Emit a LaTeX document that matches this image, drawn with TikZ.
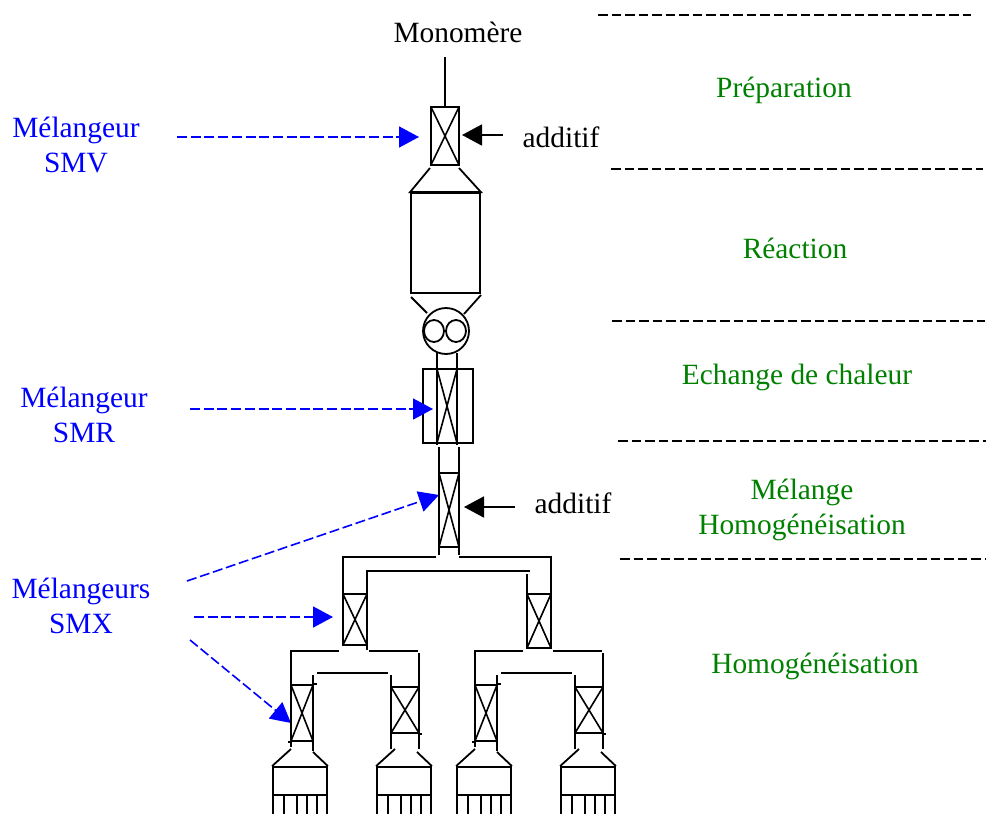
\documentclass[tikz,border=0pt]{standalone}
\usepackage{fontspec}
\setmainfont{Liberation Serif}
\usetikzlibrary{arrows.meta,positioning,shapes.geometric}
\definecolor{bleuSM}{RGB}{0,0,255}
\definecolor{vertEtape}{RGB}{0,128,0}
\tikzset{
	every node/.style={font=\fontsize{29.4}{34.5}\selectfont, align=center, inner sep=0pt},
	pipe/.style={line width=1.8pt},
	melangeur/.style 2 args={draw, line width=1.8pt, minimum width=#1, minimum height=#2,
		path picture={\draw[line width=1.6pt] (path picture bounding box.north west) -- (path picture bounding box.south east)
			(path picture bounding box.north east) -- (path picture bounding box.south west);}},
	bac/.style 2 args={draw, line width=1.8pt, minimum width=#1, minimum height=#2},
	etape/.style={text=vertEtape},
	typeSM/.style={text=bleuSM},
	limite/.style={line width=1.6pt, dash pattern=on 9.5pt off 4pt},
	renvoi/.style={draw=bleuSM, line width=1.6pt, dash pattern=on 10pt off 3.7pt, -{Triangle[length=20pt,width=21pt,fill=bleuSM]}},
	ajout/.style={line width=1.8pt, -{Triangle[length=20pt,width=21pt]}},
}
\begin{document}
\begin{tikzpicture}[x=1pt,y=-1pt]
	\useasboundingbox (0,0) rectangle (986,814);

	% Define nodes
	\node (monomere) at (458,32) {Monomère};
	\node[melangeur={28pt}{58pt}] (smv) at (445,136) {};
	\node[bac={69pt}{100pt}] (reacteur) at (445.5,243) {};
	\node[draw, circle, line width=1.8pt, minimum size=46pt] (echangeur) at (446,331) {};
	\node[draw, ellipse, line width=1.8pt, minimum width=20pt, minimum height=22pt] (rotorA) at (434,331) {};
	\node[draw, ellipse, line width=1.8pt, minimum width=20pt, minimum height=22pt] (rotorB) at (456,331) {};
	\node[bac={50pt}{74pt}] (carter) at (448,406) {};
	\node[melangeur={20pt}{74pt}] (smr) at (447,406) {};
	\node[melangeur={20pt}{74pt}] (smxA) at (449,510) {};
	\node[melangeur={24pt}{51pt}] (smxB) at (355,619.5) {};
	\node[melangeur={24pt}{54pt}] (smxC) at (539,621) {};

	% Labels on the left
	\node[typeSM] (labelSMV) at (76,145) {Mélangeur\\SMV};
	\node[typeSM] (labelSMR) at (84,415) {Mélangeur\\SMR};
	\node[typeSM] (labelSMX) at (81,606) {Mélangeurs\\SMX};

	% Labels on the right
	\node[etape] (prep) at (784,90) {Préparation};
	\node[etape] (reaction) at (795,248) {Réaction};
	\node[etape] (echange) at (797,377) {Echange de chaleur};
	\node[etape] (melange) at (802,510) {Mélange\\Homogénéisation};
	\node[etape] (homog) at (815,666) {Homogénéisation};
	\node (additifA) at (561,137) {additif};
	\node (additifB) at (573,503) {additif};

	% Free ends of the connectors
	\coordinate (feedTop) at (445,57);
	\coordinate (tipSMV) at (419,137);
	\coordinate (tipSMR) at (433,409);
	\coordinate (tipSMXa) at (439,495);
	\coordinate (tipSMXb) at (333,617);
	\coordinate (tipSMXc) at (291,723);

	% Connect the nodes
	\draw[pipe] (feedTop) -- (smv.north);
	\draw[renvoi] (177,137) -- (tipSMV);
	\draw[renvoi] (190,409) -- (tipSMR);
	\draw[renvoi] (187,581) -- (tipSMXa);
	\draw[renvoi] (194,617) -- (tipSMXb);
	\draw[renvoi] (190,640) -- (tipSMXc);
	\draw[ajout] (503,135) -- (462,135);
	\draw[ajout] (515,507) -- (464,507);

	% Reactor and exchanger
	\draw[pipe] (430,168) -- (reacteur.north west) -- (reacteur.north east) -- (459,168);
	\draw[pipe] (411,297) -- (427,313);
	\draw[pipe] (481,295) -- (464,314);
	\draw[pipe] (437,353) -- (437,445);
	\draw[pipe] (457,353) -- (457,445);
	\draw[pipe] (439,447) -- (439,555);
	\draw[pipe] (459,447) -- (459,555);

	% First split
	\draw[pipe] (436,557) -- (343,557) -- (343,645);
	\draw[pipe] (459,557) -- (551,557) -- (551,648);
	\draw[pipe] (530,571) -- (367,571) -- (367,650);
	\draw[pipe] (527,574) -- (527,648);

	% Second split
	\foreach \sx in {0,184}{
		\draw[pipe] (339+\sx,651) -- (291+\sx,651) -- (291+\sx,747);
		\draw[pipe] (369+\sx,651) -- (418+\sx,651);
		\draw[pipe] (419+\sx,653) -- (419+\sx,749);
		\draw[pipe] (313+\sx,675) -- (313+\sx,751);
		\draw[pipe] (317+\sx,673) -- (388+\sx,673);
		\draw[pipe] (391+\sx,675) -- (391+\sx,749);
		\node[melangeur={22pt}{56pt}] (smxG\sx) at (302+\sx,713) {};
		\node[melangeur={28pt}{46pt}] (smxD\sx) at (405+\sx,710) {};
		\draw[pipe] (smxG\sx.north east) -- ++(3,0);
		\draw[pipe] (smxG\sx.south west) -- ++(-2,0);
		\draw[pipe] (smxD\sx.south east) -- ++(2,0);
	}

	% Collectors at the bottom
	\foreach \sx in {0,104,184,288}{
		\node[bac={54pt}{28pt}] (collecteur\sx) at (300+\sx,781) {};
		\draw[pipe] (291+\sx,749) -- (collecteur\sx.north west);
		\draw[pipe] (313+\sx,752) -- (collecteur\sx.north east);
		\foreach \fx in {273,284,297,307,317,327}
			\draw[pipe] (\fx+\sx,795) -- (\fx+\sx,814);
	}

	% Stage limits
	\draw[limite] (598,15) -- (971,15);
	\draw[limite] (611,169) -- (983,169);
	\draw[limite] (612,321) -- (985,321);
	\draw[limite] (618,441) -- (988,441);
	\draw[limite] (620,559) -- (988,559);
\end{tikzpicture}
\end{document}
